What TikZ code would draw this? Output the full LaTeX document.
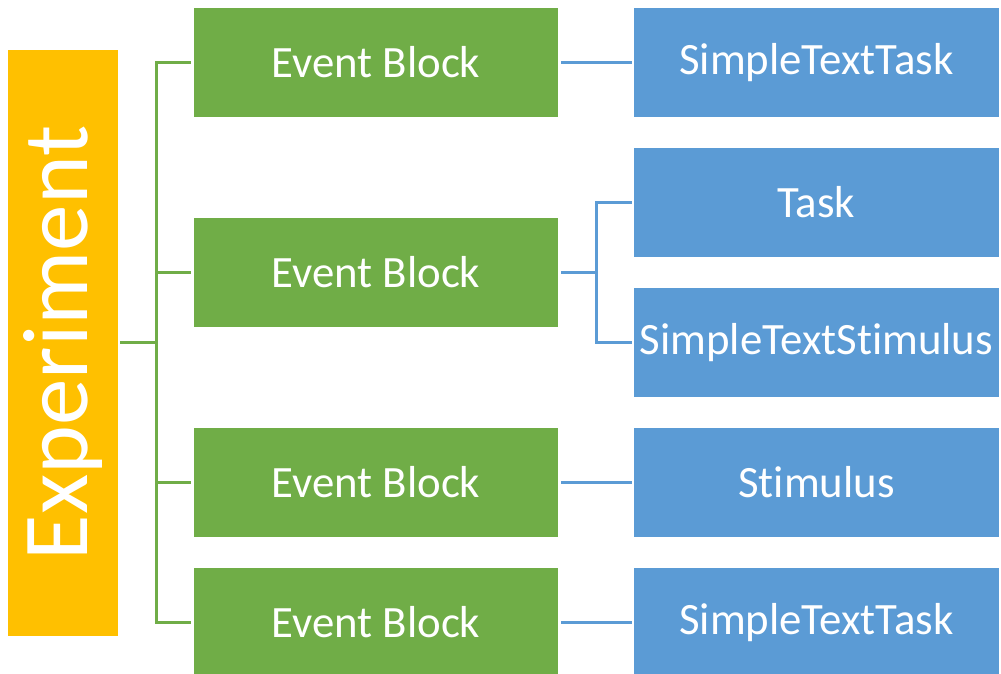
\documentclass[tikz,border=0pt]{standalone}
\usepackage{fontspec}
\setmainfont{Carlito}[Ligatures={NoCommon}]
\definecolor{exporange}{HTML}{FFC000}
\definecolor{blockgreen}{HTML}{70AD47}
\definecolor{itemblue}{HTML}{5B9BD5}

\begin{document}
\begin{tikzpicture}[line cap=butt,line join=miter,x=0.5pt,y=0.5pt,
  expbox/.style={fill=exporange,text=white,inner sep=0pt,rotate=90,minimum width=293pt,minimum height=55pt,font=\fontsize{46.5}{50}\selectfont},
  blockbox/.style={fill=blockgreen,text=white,inner sep=0pt,minimum width=182pt,minimum height=54.5pt,font=\fontsize{22.4}{26}\selectfont},
  itembox/.style={fill=itemblue,text=white,inner sep=0pt,minimum width=182.5pt,minimum height=54.5pt,font=\fontsize{22.4}{26}\selectfont},
  gline/.style={draw=blockgreen,line width=1.5pt},
  bline/.style={draw=itemblue,line width=1.25pt}]

\useasboundingbox (0,0) rectangle (1001,674);

\node[expbox] (exp) at (63,331) {Experiment};

\node[blockbox] (g1) at (376,611.5) {Event Block};
\node[blockbox] (g2) at (376,401.5) {Event Block};
\node[blockbox] (g3) at (376,191.5) {Event Block};
\node[blockbox] (g4) at (376,51.5) {Event Block};

\node[itembox] (b1) at (816.5,611.5) {SimpleTextTask};
\node[itembox] (b2) at (816.5,471.5) {Task};
\node[itembox] (b3) at (816.5,331.5) {SimpleTextStimulus};
\node[itembox] (b4) at (816.5,191.5) {Stimulus};
\node[itembox] (b5) at (816.5,51.5) {SimpleTextTask};

\coordinate (split) at (156,331);
\coordinate (split2) at (596.5,401.5);

\draw[gline,shorten <=1pt] (exp.south) -- (split);
\draw[gline,shorten <=1.5pt] (g1.west) -| (split);
\draw[gline,shorten <=1.5pt] (g2.west) -| (split);
\draw[gline,shorten <=1.5pt] (g3.west) -| (split);
\draw[gline,shorten <=1.5pt] (g4.west) -| (split);

\draw[bline,shorten <=1.5pt,shorten >=1pt] (g1.east) -- (b1.west);
\draw[bline,shorten <=1.5pt] (g2.east) -- (split2);
\draw[bline,shorten <=1pt] (b2.west) -| (split2);
\draw[bline,shorten <=1pt] (b3.west) -| (split2);
\draw[bline,shorten <=1.5pt,shorten >=1pt] (g3.east) -- (b4.west);
\draw[bline,shorten <=1.5pt,shorten >=1pt] (g4.east) -- (b5.west);

\end{tikzpicture}
\end{document}
